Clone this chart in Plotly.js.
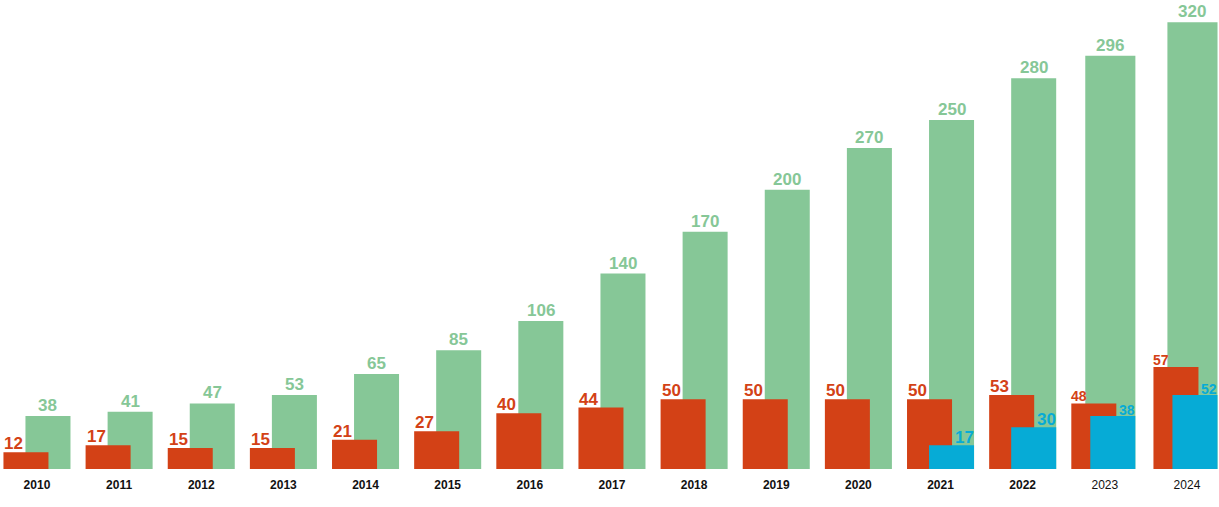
<!DOCTYPE html>
<html>
<head>
<meta charset="utf-8">
<script src="https://cdn.plot.ly/plotly-3.0.1.min.js"></script>
<style>
  html, body { margin: 0; padding: 0; background: #fff; }
  #chart { width: 1219px; height: 507px; }
</style>
</head>
<body>
<div id="chart"></div>
<script>
var years = ['2010', '2011', '2012', '2013', '2014', '2015', '2016', '2017',
             '2018', '2019', '2020', '2021', '2022', '2023', '2024'];
// bar heights as drawn; a few bars in the original don't match their printed label
var greenValues = [38, 41, 47, 53, 68, 85, 106, 140, 170, 200, 230, 250, 280, 296, 320];
var greenLabels = ['38', '41', '47', '53', '65', '85', '106', '140', '170', '200', '270', '250', '280', '296', '320'];
var redValues = [12, 17, 15, 15, 21, 27, 40, 44, 50, 50, 50, 50, 53, 47, 73];
var redLabels = ['12', '17', '15', '15', '21', '27', '40', '44', '50', '50', '50', '50', '53', '48', '57'];
var blueValues = [null, null, null, null, null, null, null, null, null, null, null, 17, 30, 38, 53];
var blueLabels = ['', '', '', '', '', '', '', '', '', '', '', '17', '30', '38', '52'];

var GREEN = '#86c797', RED = '#d34116', BLUE = '#06abd6';
var FONT = 'Liberation Sans, Arial, Helvetica, sans-serif';

// bar geometry in category units (one year = 1 unit)
var barW = 0.548;
var redOff = -0.408;
var idx = years.map(function (y, i) { return i; });
var late = function (i) { return i >= 13; };   // last two years are drawn tighter
var greenOff = idx.map(function (i) { return late(i) ? -0.238 : -0.14; });
var greenW = idx.map(function (i) { return late(i) ? 0.61 : barW; });
var blueOff = idx.map(function (i) { return late(i) ? -0.177 : -0.14; });

var traces = [
  { type: 'bar', x: idx, y: greenValues, width: greenW, offset: greenOff,
    marker: { color: GREEN }, hoverinfo: 'skip' },
  { type: 'bar', x: idx, y: redValues, width: barW, offset: redOff,
    marker: { color: RED }, hoverinfo: 'skip' },
  { type: 'bar', x: idx, y: blueValues, width: barW, offset: blueOff,
    marker: { color: BLUE }, hoverinfo: 'skip' }
];

var annotations = [];
idx.forEach(function (i) {
  var small = late(i);
  annotations.push({
    x: i + greenOff[i] + greenW[i] / 2, y: greenValues[i], xref: 'x', yref: 'y',
    text: '<b>' + greenLabels[i] + '</b>', showarrow: false,
    xanchor: 'center', yanchor: 'bottom', yshift: -1,
    font: { family: FONT, size: 17, color: GREEN }
  });
  annotations.push({
    x: i + redOff, y: redValues[i], xref: 'x', yref: 'y',
    text: '<b>' + redLabels[i] + '</b>', showarrow: false,
    xanchor: 'left', yanchor: 'bottom', yshift: -3, xshift: small ? -2 : -1,
    font: { family: FONT, size: small ? 14 : 17, color: RED }
  });
  if (blueValues[i] !== null) {
    annotations.push({
      x: i + blueOff[i] + barW, y: blueValues[i], xref: 'x', yref: 'y',
      text: '<b>' + blueLabels[i] + '</b>', showarrow: false,
      xanchor: 'right', yanchor: 'bottom', yshift: -4, xshift: 2,
      font: { family: FONT, size: small ? 14 : 17, color: BLUE }
    });
  }
});

var layout = {
  width: 1219, height: 507,
  margin: { l: 0, r: 0, t: 0, b: 38 },
  paper_bgcolor: '#fff', plot_bgcolor: '#fff',
  barmode: 'overlay', showlegend: false,
  xaxis: {
    range: [-0.45, 14.39],
    tickvals: idx,
    ticktext: years.map(function (y, i) { return late(i) ? y : '<b>' + y + '</b>'; }),
    tickfont: { family: FONT, size: 12, color: '#111' },
    ticklabelstandoff: 7,
    ticks: '', showgrid: false, zeroline: false, showline: false,
    fixedrange: true
  },
  yaxis: {
    range: [0, 336], visible: false, showgrid: false, zeroline: false, fixedrange: true
  },
  annotations: annotations
};

Plotly.newPlot('chart', traces, layout, { displayModeBar: false, staticPlot: true });
</script>
</body>
</html>
